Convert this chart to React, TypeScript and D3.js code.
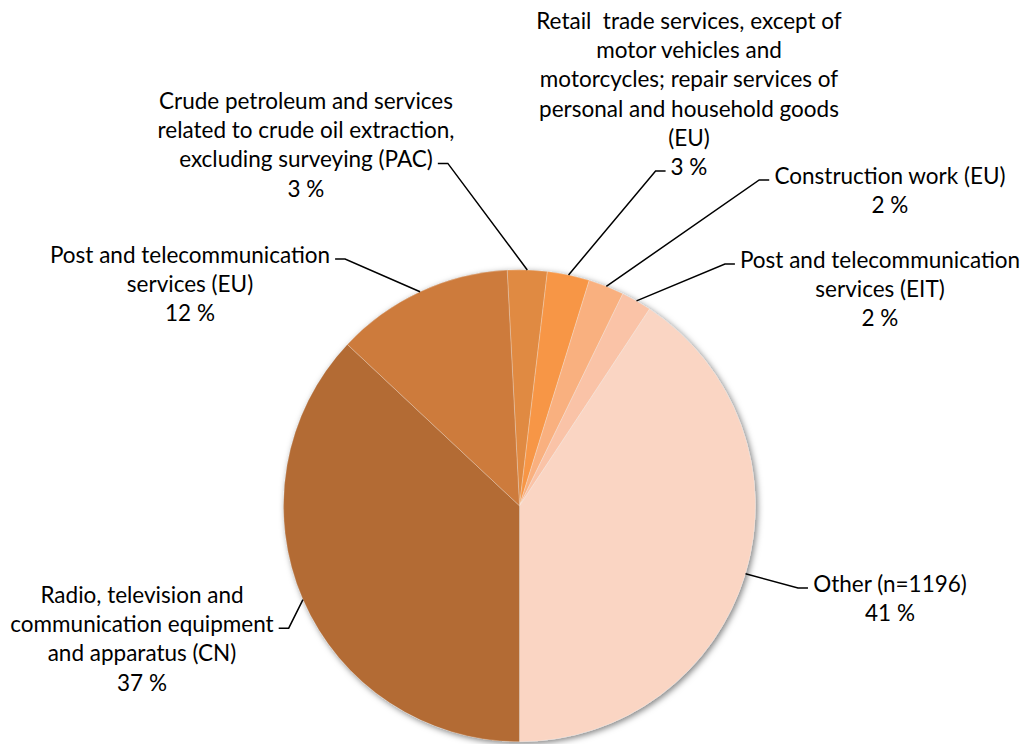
import React from "react";
import * as d3 from "d3";

// ---- data ----
const categories = [
  "Crude petroleum and services related to crude oil extraction, excluding surveying (PAC)",
  "Retail  trade services, except of motor vehicles and motorcycles; repair services of personal and household goods (EU)",
  "Construction work (EU)",
  "Post and telecommunication services (EIT)",
  "Other (n=1196)",
  "Radio, television and communication equipment and apparatus (CN)",
  "Post and telecommunication services (EU)",
];
const shares = [2.72, 2.89, 2.44, 2.08, 40.71, 36.99, 12.18];
const colors = ["#E08A42", "#F79646", "#F9B07F", "#FAC3A7", "#FAD5C3", "#B36B34", "#CD7B3C"];
const labelLines = [
  ["Crude petroleum and services", "related to crude oil extraction,", "excluding surveying (PAC)"],
  ["Retail  trade services, except of", "motor vehicles and", "motorcycles; repair services of", "personal and household goods", "(EU)"],
  ["Construction work (EU)"],
  ["Post and telecommunication", "services (EIT)"],
  ["Other (n=1196)"],
  ["Radio, television and", "communication equipment", "and apparatus (CN)"],
  ["Post and telecommunication", "services (EU)"],
];

// ---- layout (label block center x, first baseline y, line that carries the leader, leader side) ----
const labelLayout = [
  { cx: 306, y0: 109, leaderLine: 2, side: "right" },
  { cx: 689, y0: 29, leaderLine: 5, side: "left" },
  { cx: 890, y0: 184, leaderLine: 0, side: "left" },
  { cx: 880, y0: 268, leaderLine: 0, side: "left" },
  { cx: 890, y0: 592, leaderLine: 0, side: "left" },
  { cx: 142, y0: 603, leaderLine: 1, side: "right" },
  { cx: 190, y0: 263, leaderLine: 0, side: "right" },
];

const W = 1023;
const H = 744;
const CX = 519.5;
const CY = 505.8;
const R = 236;
const START_DEG = -3.0;
const FONT = 22.5;
const LINE_H = 29.2;

export default function App() {
  const pie = d3
    .pie<number>()
    .sort(null)
    .value((d) => d)
    .startAngle((START_DEG * Math.PI) / 180)
    .endAngle((START_DEG * Math.PI) / 180 + 2 * Math.PI);
  const arcs = pie(shares);
  const arc = d3.arc<d3.PieArcDatum<number>>().innerRadius(0).outerRadius(R);

  const measure = (s: string) => {
    if (typeof document === "undefined") return s.length * FONT * 0.5;
    const c = document.createElement("canvas").getContext("2d")!;
    c.font = `${FONT}px Lato`;
    return c.measureText(s).width;
  };

  return (
    <svg
      width={W}
      height={H}
      style={{ position: "absolute", left: 0, top: 0, background: "#fff" }}
      fontFamily="Lato, 'Open Sans', sans-serif"
      fontSize={FONT}
    >
      <defs>
        <filter id="sh" x="-10%" y="-10%" width="120%" height="120%">
          <feDropShadow dx="2" dy="2" stdDeviation="3" floodColor="#000" floodOpacity="0.5" />
        </filter>
      </defs>
      <g transform={`translate(${CX},${CY})`}>
        <g filter="url(#sh)">
          <circle r={R} fill="#ccc" />
        </g>
        {arcs.map((a, i) => (
          <path key={i} d={arc(a) || ""} fill={colors[i]} stroke="rgba(255,255,255,0.25)" strokeWidth={1} />
        ))}
      </g>
      {arcs.map((a, i) => {
        const L = labelLayout[i];
        const lines = [...labelLines[i], `${Math.round(shares[i])} %`];
        const mid = (a.startAngle + a.endAngle) / 2;
        const px = CX + R * Math.sin(mid);
        const py = CY - R * Math.cos(mid);
        const lineText = lines[L.leaderLine];
        const w = measure(lineText);
        const ly = L.y0 + L.leaderLine * LINE_H - 4;
        const hx0 = L.side === "right" ? L.cx + w / 2 + 5 : L.cx - w / 2 - 5;
        const hx1 = L.side === "right" ? hx0 + 10 : hx0 - 10;
        return (
          <g key={i}>
            <polyline
              points={`${hx0},${ly} ${hx1},${ly} ${px},${py}`}
              fill="none"
              stroke="#000"
              strokeWidth={1.5}
            />
            <text textAnchor="middle" fill="#000" style={{ whiteSpace: "pre" }}>
              {lines.map((t, j) => (
                <tspan key={j} x={L.cx} y={L.y0 + j * LINE_H}>
                  {t}
                </tspan>
              ))}
            </text>
          </g>
        );
      })}
    </svg>
  );
}
